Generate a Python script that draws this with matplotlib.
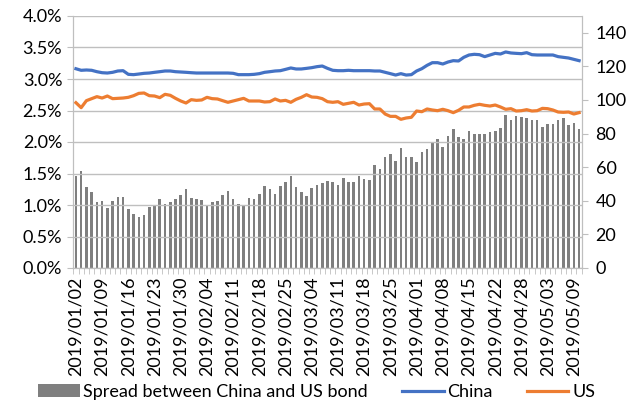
import matplotlib
matplotlib.use('Agg')
import matplotlib.pyplot as plt
from matplotlib.ticker import FuncFormatter, FixedLocator

plt.rcParams['font.family'] = ['Lato', 'DejaVu Sans']

# trading days shown on the category axis
dates = (
    ['2019/01/02', '2019/01/03', '2019/01/04', '2019/01/07', '2019/01/08',
     '2019/01/09', '2019/01/10', '2019/01/11', '2019/01/14', '2019/01/15',
     '2019/01/16', '2019/01/17', '2019/01/18', '2019/01/21', '2019/01/22',
     '2019/01/23', '2019/01/24', '2019/01/25', '2019/01/28', '2019/01/29',
     '2019/01/30', '2019/01/31', '2019/02/01', '2019/02/02', '2019/02/03',
     '2019/02/04', '2019/02/05', '2019/02/06', '2019/02/07', '2019/02/08',
     '2019/02/11', '2019/02/12', '2019/02/13', '2019/02/14', '2019/02/15',
     '2019/02/18', '2019/02/19', '2019/02/20', '2019/02/21', '2019/02/22',
     '2019/02/25', '2019/02/26', '2019/02/27', '2019/02/28', '2019/03/01',
     '2019/03/04', '2019/03/05', '2019/03/06', '2019/03/07', '2019/03/08',
     '2019/03/11', '2019/03/12', '2019/03/13', '2019/03/14', '2019/03/15',
     '2019/03/18', '2019/03/19', '2019/03/20', '2019/03/21', '2019/03/22',
     '2019/03/25', '2019/03/26', '2019/03/27', '2019/03/28', '2019/03/29',
     '2019/04/01', '2019/04/02', '2019/04/03', '2019/04/04', '2019/04/05',
     '2019/04/08', '2019/04/09', '2019/04/10', '2019/04/11', '2019/04/12',
     '2019/04/15', '2019/04/16', '2019/04/17', '2019/04/18', '2019/04/19',
     '2019/04/22', '2019/04/23', '2019/04/24', '2019/04/25', '2019/04/26',
     '2019/04/28', '2019/04/29', '2019/04/30', '2019/05/01', '2019/05/02',
     '2019/05/03', '2019/05/05', '2019/05/06', '2019/05/07', '2019/05/08',
     '2019/05/09', '2019/05/10'])

# spread in bp (right axis)
spread = [55, 58, 48, 45, 39, 40, 35.5, 40, 42.3, 42.3,
          35, 32.3, 30.4, 31.5, 36.3, 37.3, 41.3, 37.9, 39.3, 41.1,
          43.5, 46.8, 41.5, 40.9, 40.7, 37.3, 39.5, 39.7, 43.7, 45.8,
          40.9, 38.3, 36.7, 41.5, 41.3, 44.2, 49, 47, 44, 48.8,
          51.2, 54.8, 48.4, 45.2, 43, 47.6, 49.2, 50.6, 51.6, 51,
          49.2, 53.8, 51.2, 51.2, 54.6, 53, 52.2, 61.5, 58.9, 66.3,
          67.9, 63.5, 71.6, 66.3, 65.9, 62.9, 68.8, 70.6, 74.8, 76.8,
          72.2, 78.4, 82.5, 78.2, 76.6, 81.5, 79.8, 79.6, 79.6, 81,
          81.5, 83.1, 91.1, 88.1, 90.3, 90.1, 89.5, 87.9, 88.1, 83.9,
          85.5, 85.5, 88.1, 89.3, 85.1, 86.3, 82.9]

# 10y yields in % (left axis)
china = [3.163, 3.138, 3.143, 3.138, 3.116, 3.100, 3.095, 3.106, 3.127, 3.132,
         3.074, 3.069, 3.079, 3.090, 3.095, 3.106, 3.116, 3.127, 3.127, 3.116,
         3.111, 3.106, 3.100, 3.095, 3.095, 3.095, 3.095, 3.095, 3.095, 3.095,
         3.090, 3.069, 3.069, 3.069, 3.074, 3.085, 3.106, 3.116, 3.127, 3.132,
         3.153, 3.175, 3.159, 3.159, 3.169, 3.180, 3.196, 3.206, 3.169, 3.138,
         3.132, 3.132, 3.138, 3.132, 3.132, 3.132, 3.132, 3.127, 3.127, 3.106,
         3.085, 3.063, 3.085, 3.063, 3.069, 3.127, 3.164, 3.217, 3.259, 3.259,
         3.238, 3.270, 3.291, 3.286, 3.344, 3.381, 3.392, 3.386, 3.355, 3.381,
         3.407, 3.397, 3.429, 3.413, 3.407, 3.402, 3.418, 3.386, 3.381, 3.381,
         3.381, 3.381, 3.355, 3.344, 3.333, 3.312, 3.291]

us = [2.624, 2.545, 2.656, 2.688, 2.720, 2.698, 2.730, 2.688, 2.693, 2.698,
      2.709, 2.735, 2.772, 2.778, 2.735, 2.730, 2.704, 2.757, 2.741, 2.693,
      2.651, 2.619, 2.672, 2.661, 2.667, 2.709, 2.688, 2.683, 2.656, 2.630,
      2.651, 2.672, 2.693, 2.651, 2.651, 2.651, 2.635, 2.640, 2.683, 2.651,
      2.661, 2.630, 2.677, 2.709, 2.751, 2.714, 2.709, 2.688, 2.640, 2.630,
      2.640, 2.598, 2.614, 2.630, 2.587, 2.603, 2.608, 2.524, 2.524, 2.444,
      2.407, 2.407, 2.360, 2.381, 2.392, 2.492, 2.481, 2.524, 2.508, 2.497,
      2.519, 2.497, 2.466, 2.503, 2.556, 2.556, 2.582, 2.598, 2.582, 2.571,
      2.587, 2.556, 2.519, 2.529, 2.492, 2.497, 2.513, 2.492, 2.497, 2.534,
      2.529, 2.508, 2.476, 2.471, 2.476, 2.444, 2.466]

x = list(range(len(dates)))
grid_col = '#bfbfbf'
fs = 13

fig = plt.figure(figsize=(6.33, 4.05), dpi=100)
ax = fig.add_axes([73.3 / 633, 1 - 268 / 405, (581.7 - 73.3) / 633, 252 / 405])
ax2 = ax.twinx()
ax.set_zorder(ax2.get_zorder() + 1)
ax.patch.set_visible(False)

bars = ax2.bar(x, spread, width=0.5, color='#7f7f7f')
l1, = ax.plot(x, [v / 100 for v in china], color='#4472c4', lw=2.3)
l2, = ax.plot(x, [v / 100 for v in us], color='#ed7d31', lw=2.3)

ax.set_xlim(-0.5, len(dates) - 0.5)
ax.set_ylim(0, 0.04)
ax.set_yticks([i * 0.005 for i in range(9)])
ax.yaxis.set_major_formatter(FuncFormatter(lambda v, p: f'{v * 100:.1f}%'))
ax.grid(axis='y', color=grid_col, lw=1)
ax2.set_ylim(0, 150)
ax2.set_yticks(range(0, 141, 20))

ax.set_xticks(x[::5])
ax.set_xticklabels(dates[::5], rotation=90)
ax.xaxis.set_minor_locator(FixedLocator([i - 0.5 for i in range(len(dates) + 1)]))
ax.tick_params(axis='x', which='major', length=0, pad=6, labelsize=fs)
ax.tick_params(axis='x', which='minor', length=4, color=grid_col)
ax.tick_params(axis='y', length=4, color=grid_col, labelsize=fs, pad=4)
ax2.tick_params(axis='y', length=4, color=grid_col, labelsize=fs, pad=6)

for a in (ax, ax2):
    a.spines['top'].set_visible(False)
    for s in ('left', 'right', 'bottom'):
        a.spines[s].set_color(grid_col)

fig.legend([bars, l1, l2], ['Spread between China and US bond', 'China', 'US'],
           loc='center', bbox_to_anchor=(0.5, 1 - 392 / 405), ncol=3, frameon=False,
           fontsize=fs, handlelength=2.3, handleheight=0.7, columnspacing=1.9,
           handletextpad=0.2, borderpad=0.2)

fig.savefig('out.png', dpi=100)
